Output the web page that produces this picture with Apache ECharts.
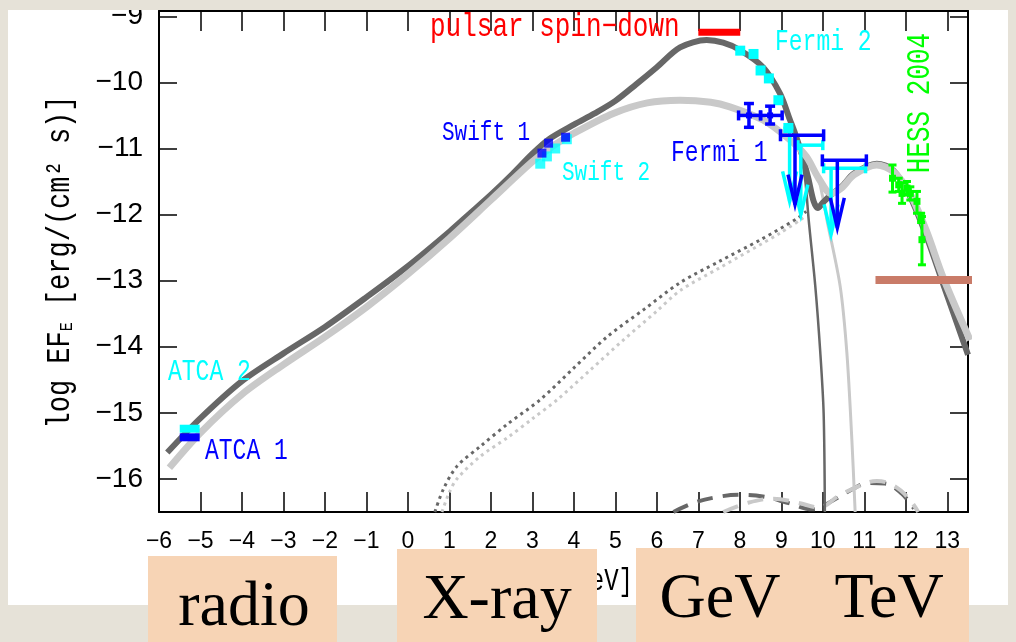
<!DOCTYPE html>
<html><head><meta charset="utf-8">
<script src="https://cdn.jsdelivr.net/npm/echarts@6/dist/echarts.min.js"></script>
<style>
html,body{margin:0;padding:0;width:1016px;height:642px;overflow:hidden;background:#e6e2d8;}
#panel{position:absolute;left:8px;top:10px;width:1000px;height:595px;background:#ffffff;}
#chart{position:absolute;left:0;top:0;width:1016px;height:642px;}
#topstrip{position:absolute;left:0;top:0;width:1016px;height:10px;background:#e6e2d8;}
</style></head><body>
<div id="panel"></div><div id="chart"></div><div id="topstrip"></div>
<script>
// ---------- tick labels ----------
const xTicks = [-6,-5,-4,-3,-2,-1,0,1,2,3,4,5,6,7,8,9,10,11,12,13];
const yTicks = [-16,-15,-14,-13,-12,-11,-10,-9];
const xRange = [-6, 13.5];
const yRange = [-16.5, -8.92];

// ---------- model curves [log E, log EF_E] ----------
const modelDarkTotal = [[-5.80,-15.60],[-5.00,-15.08],[-4.00,-14.52],[-3.00,-14.10],[-2.00,-13.70],[-1.00,-13.25],[0.00,-12.78],[1.00,-12.26],[1.50,-11.98],[2.00,-11.70],[2.50,-11.40],[3.00,-11.08],[3.40,-10.86],[4.00,-10.64],[4.50,-10.47],[5.00,-10.28],[5.50,-10.03],[6.00,-9.77],[6.56,-9.47],[7.20,-9.36],[7.60,-9.40],[8.00,-9.51],[8.56,-9.77],[8.97,-10.17],[9.21,-10.57],[9.33,-10.77],[9.50,-11.10],[9.65,-11.45],[9.78,-11.80],[9.88,-11.90],[10.00,-11.82],[10.20,-11.70],[10.45,-11.58],[10.75,-11.38],[11.30,-11.23],[11.70,-11.33],[12.10,-11.72],[12.50,-12.33],[12.90,-13.05],[13.50,-14.12]];
const modelLightTotal = [[-5.75,-15.83],[-5.00,-15.30],[-4.00,-14.72],[-3.00,-14.27],[-2.00,-13.85],[-1.00,-13.40],[0.00,-12.90],[1.00,-12.36],[2.00,-11.78],[3.00,-11.20],[3.50,-10.96],[4.00,-10.77],[4.95,-10.47],[5.77,-10.31],[6.56,-10.27],[7.30,-10.30],[7.76,-10.37],[8.56,-10.57],[9.21,-10.87],[9.60,-11.12],[9.90,-11.45],[10.20,-11.68],[10.45,-11.60],[10.75,-11.40],[11.30,-11.25],[11.70,-11.35],[12.10,-11.68],[12.50,-12.25],[12.90,-12.95],[13.55,-13.90]];
const modelDarkCutoff = [[9.45,-11.00],[9.58,-11.50],[9.66,-12.08],[9.82,-13.09],[9.94,-14.09],[10.02,-15.00],[10.05,-16.50]];
const modelLightCutoff = [[9.90,-11.45],[10.02,-11.80],[10.10,-12.08],[10.42,-13.09],[10.58,-14.09],[10.70,-15.40],[10.78,-16.50]];
const modelDarkDotted = [[0.65,-16.50],[0.85,-16.16],[1.18,-15.81],[1.74,-15.51],[2.40,-15.17],[3.19,-14.80],[4.00,-14.32],[4.80,-13.85],[5.70,-13.43],[6.56,-13.03],[7.50,-12.71],[8.50,-12.38],[9.38,-12.06],[9.60,-11.95]];
const modelLightDotted = [[0.82,-16.50],[1.00,-16.20],[1.18,-16.00],[1.74,-15.66],[2.41,-15.37],[3.00,-15.09],[3.60,-14.80],[4.40,-14.35],[5.19,-13.90],[6.00,-13.46],[6.56,-13.15],[7.50,-12.81],[8.97,-12.28],[9.53,-12.05]];
const modelDarkDashed = [[6.40,-16.50],[6.90,-16.36],[7.40,-16.28],[8.00,-16.24],[8.60,-16.27],[9.20,-16.37],[9.75,-16.46],[10.20,-16.34],[10.70,-16.16],[11.10,-16.06],[11.50,-16.07],[11.90,-16.22],[12.20,-16.45]];
const modelLightDashed = [[7.60,-16.50],[8.20,-16.36],[8.80,-16.30],[9.40,-16.36],[9.90,-16.43],[10.40,-16.25],[10.90,-16.10],[11.30,-16.03],[11.70,-16.10],[12.05,-16.28],[12.30,-16.50]];

// ---------- observations ----------
const atca1Bar = [[-5.50,-15.37],[-5.02,-15.37]];
const atca2Bar = [[-5.50,-15.24],[-5.02,-15.24]];
const pulsarSpinDown = [[7.00,-9.24],[8.01,-9.24]];
const sensitivityBar = [[11.27,-12.99],[14.47,-12.99]];
const swift1Points = [[3.23,-11.07],[3.39,-10.92],[3.80,-10.83]];
const swift2Points = [[3.19,-11.23],[3.35,-11.12],[3.55,-11.00],[3.83,-10.86]];
// [x, y, xlo, xhi, ylo, yhi]
const fermi1Points = [[8.22,-10.50,7.97,8.50,-10.68,-10.32],[8.73,-10.50,8.50,9.02,-10.63,-10.36]];
const fermi2Points = [[8.01,-9.52,null,null,null,null],[8.33,-9.57,null,null,null,null],[8.50,-9.82,null,null,null,null],[8.70,-9.94,null,null,null,null],[8.93,-10.27,null,null,null,null],[9.17,-10.69,9.05,9.29,null,null]];
const hessPoints = [[11.68,-11.45,null,null,-11.66,-11.25],[11.83,-11.55,null,null,-11.65,-11.45],[11.91,-11.68,null,null,-11.83,-11.52],[12.03,-11.60,null,null,-11.70,-11.50],[12.11,-11.68,null,null,-11.78,-11.58],[12.27,-11.80,null,null,-11.98,-11.65],[12.37,-12.05,null,null,-12.12,-11.98],[12.39,-12.38,null,null,-12.76,-12.03]];
// upper limits [x, y, xlo, xhi, yTip, xArrow]
const fermi1Limits = [[9.38,-10.80,8.98,10.02,-11.85,9.33],[10.35,-11.18,9.99,11.05,-12.20,10.35]];
const fermi2Limits = [[9.22,-10.72,9.22,9.22,-11.80,9.20],[9.50,-10.95,9.40,10.00,-12.00,9.47],[10.40,-11.30,10.02,11.03,-12.30,10.20]];

const CYAN='#00ffff', BLUE='#0000ff', GREEN='#00ff00', RED='#ff0000';
const DARK='#676767', LIGHT='#c9c9c9';

function fin(v){ return typeof v==='number' && isFinite(v); }
function seg(a,b,color,lw){ return {type:'line', shape:{x1:a[0],y1:a[1],x2:b[0],y2:b[1]}, style:{stroke:color,lineWidth:lw}}; }

function errRenderer(color, lw, cap, msize){
  return function(params, api){
    const x=api.value(0), y=api.value(1), xlo=api.value(2), xhi=api.value(3), ylo=api.value(4), yhi=api.value(5);
    const c=api.coord([x,y]); const ch=[];
    if(fin(xlo)&&fin(xhi)){
      const a=api.coord([xlo,y]), b=api.coord([xhi,y]);
      ch.push(seg(a,b,color,lw));
      if(cap){ ch.push(seg([a[0],a[1]-cap],[a[0],a[1]+cap],color,lw)); ch.push(seg([b[0],b[1]-cap],[b[0],b[1]+cap],color,lw)); }
    }
    if(fin(ylo)&&fin(yhi)){
      const a=api.coord([x,ylo]), b=api.coord([x,yhi]);
      ch.push(seg(a,b,color,lw));
      if(cap){ ch.push(seg([a[0]-cap,a[1]],[a[0]+cap,a[1]],color,lw)); ch.push(seg([b[0]-cap,b[1]],[b[0]+cap,b[1]],color,lw)); }
    }
    ch.push({type:'rect', shape:{x:c[0]-msize/2,y:c[1]-msize/2,width:msize,height:msize}, style:{fill:color}});
    return {type:'group', children:ch};
  };
}
function ulRenderer(color, lw, cap){
  return function(params, api){
    const y=api.value(1), xlo=api.value(2), xhi=api.value(3), yt=api.value(4), xa=api.value(5);
    const ch=[];
    const a=api.coord([xlo,y]), b=api.coord([xhi,y]);
    if(b[0]-a[0]>1){
      ch.push(seg(a,b,color,lw));
      ch.push(seg([a[0],a[1]-cap],[a[0],a[1]+cap],color,lw));
      ch.push(seg([b[0],b[1]-cap],[b[0],b[1]+cap],color,lw));
    }
    const top=api.coord([xa,y]), tip=api.coord([xa,yt]);
    ch.push(seg(top,tip,color,lw));
    ch.push({type:'polyline', shape:{points:[[tip[0]-7,tip[1]-30],[tip[0],tip[1]],[tip[0]+7,tip[1]-30]]}, style:{stroke:color,lineWidth:lw,fill:null}});
    return {type:'group', children:ch};
  };
}
function curve(data,color,width,type,smooth,z){
  return {type:'line', data:data, showSymbol:false, symbol:'none', smooth:smooth, clip:true, z:z||2, silent:true,
    lineStyle:{color:color,width:width,type:type||'solid',cap:'butt'}};
}
function bar(data,color,width,clip){
  return {type:'line', data:data, showSymbol:false, symbol:'none', clip:clip, z:5, silent:true, lineStyle:{color:color,width:width,cap:'butt'}};
}
function label(text, x, y, color, size, opts){
  opts = opts || {};
  const align = opts.align || 'left';
  return {type:'text', x:x, y:y, z:50, rotation:opts.rotation||0, scaleY:opts.scaleY||1.28,
    style:{text:text, font:size+'px "Liberation Mono"', fill:color, align:align, verticalAlign:'middle', textAlign:align, textVerticalAlign:'middle', rich:opts.rich}};
}
function bandText(text, x, y){
  return {type:'text', x:x, y:y, z:101, style:{text:text, font:'64px "Liberation Serif"', fill:'#000', align:'center', verticalAlign:'middle', textAlign:'center', textVerticalAlign:'middle'}};
}

const minusFmt = v => String(v).replace('-', '\u2212');
const axisLineStyle = {color:'#000', width:2};

const chart = echarts.init(document.getElementById('chart'), null, {renderer:'canvas'});
chart.setOption({
  backgroundColor:'transparent',
  animation:false,
  grid:{left:159, top:11, right:48, bottom:130, outerBoundsMode:'none', containLabel:false},
  xAxis:[
    {type:'value', min:xRange[0], max:xRange[1], interval:1, position:'bottom',
     axisLine:{onZero:false, lineStyle:axisLineStyle},
     axisTick:{inside:true, length:20, customValues:xTicks, lineStyle:{color:'#000',width:1.5}},
     axisLabel:{customValues:xTicks, formatter:minusFmt, margin:18, fontSize:23, color:'#000', fontFamily:'Liberation Sans'},
     splitLine:{show:false}},
    {type:'value', min:xRange[0], max:xRange[1], interval:1, position:'top',
     axisLine:{onZero:false, lineStyle:axisLineStyle},
     axisTick:{inside:true, length:20, customValues:xTicks, lineStyle:{color:'#000',width:1.5}},
     axisLabel:{show:false}, splitLine:{show:false}}
  ],
  yAxis:[
    {type:'value', min:yRange[0], max:yRange[1], position:'left',
     axisLine:{onZero:false, lineStyle:axisLineStyle},
     axisTick:{inside:true, length:18, customValues:yTicks, lineStyle:{color:'#000',width:1.5}},
     axisLabel:{customValues:yTicks, formatter:minusFmt, margin:16, fontSize:28, color:'#000', fontFamily:'Liberation Sans'},
     splitLine:{show:false}},
    {type:'value', min:yRange[0], max:yRange[1], position:'right',
     axisLine:{onZero:false, lineStyle:axisLineStyle},
     axisTick:{inside:true, length:18, customValues:yTicks, lineStyle:{color:'#000',width:1.5}},
     axisLabel:{show:false}, splitLine:{show:false}}
  ],
  series:[
    curve(modelDarkDashed, DARK, 4, [16,10], 0.4, 1),
    curve(modelLightDashed, LIGHT, 4, [16,10], 0.4, 1),
    curve(modelDarkDotted, DARK, 3, [3,4], 0.3, 1),
    curve(modelLightDotted, LIGHT, 3, [3,4], 0.3, 1),
    curve(modelDarkCutoff, DARK, 2.5, 'solid', 0.3, 2),
    curve(modelLightCutoff, LIGHT, 3, 'solid', 0.3, 2),
    curve(modelDarkTotal, DARK, 6, 'solid', 0.3, 3),
    curve(modelLightTotal, LIGHT, 7, 'solid', 0.3, 3),
    bar(atca1Bar, BLUE, 8, true),
    bar(atca2Bar, CYAN, 8, true),
    bar(pulsarSpinDown, RED, 7, true),
    bar(sensitivityBar, '#c97b68', 8, false),
    {type:'scatter', data:swift2Points, symbol:'rect', symbolSize:10, itemStyle:{color:CYAN}, z:6, silent:true},
    {type:'scatter', data:swift1Points, symbol:'rect', symbolSize:9, itemStyle:{color:BLUE}, z:6, silent:true},
    {type:'custom', data:fermi2Points, renderItem:errRenderer(CYAN,3,0,10), encode:{x:0,y:1}, z:6, clip:false, silent:true},
    {type:'custom', data:fermi2Limits, renderItem:ulRenderer(CYAN,3.5,5), encode:{x:0,y:1}, z:6, clip:false, silent:true},
    {type:'custom', data:fermi1Limits, renderItem:ulRenderer(BLUE,3.5,6), encode:{x:0,y:1}, z:7, clip:false, silent:true},
    {type:'custom', data:fermi1Points, renderItem:errRenderer(BLUE,3.5,5,6), encode:{x:0,y:1}, z:7, clip:false, silent:true},
    {type:'custom', data:hessPoints, renderItem:errRenderer(GREEN,3,4,7), encode:{x:0,y:1}, z:7, clip:false, silent:true}
  ],
  graphic:[
    label('log EF{s|E} [erg/(cm\u00b2 s)]', 60, 262, '#000', 27, {align:'center', rotation:Math.PI/2, scaleY:1.25,
       rich:{s:{font:'15px "Liberation Mono"', fill:'#000', verticalAlign:'bottom', padding:[10,0,0,0]}}}),
    label('log E [eV]', 633, 582, '#000', 24, {align:'right'}),
    label('pulsar spin\u2212down', 430, 27, RED, 26),
    label('Fermi 2', 775, 42, CYAN, 23),
    label('Fermi 1', 671, 153, BLUE, 23),
    label('Swift 1', 442, 133, BLUE, 21),
    label('Swift 2', 562, 173, CYAN, 21),
    label('ATCA 2', 168, 372, CYAN, 23),
    label('ATCA 1', 205, 451, BLUE, 23),
    label('HESS 2004', 920, 103, GREEN, 26, {align:'center', rotation:Math.PI/2}),
    {type:'rect', z:100, shape:{x:148,y:556,width:189,height:86}, style:{fill:'#f7d4b5'}},
    {type:'rect', z:100, shape:{x:397,y:549,width:200,height:93}, style:{fill:'#f7d4b5'}},
    {type:'rect', z:100, shape:{x:636,y:548,width:333,height:94}, style:{fill:'#f7d4b5'}},
    bandText('radio', 244, 608),
    bandText('X-ray', 497, 601),
    bandText('GeV', 720, 600),
    bandText('TeV', 889, 600)
  ]
});
</script>
</body></html>
